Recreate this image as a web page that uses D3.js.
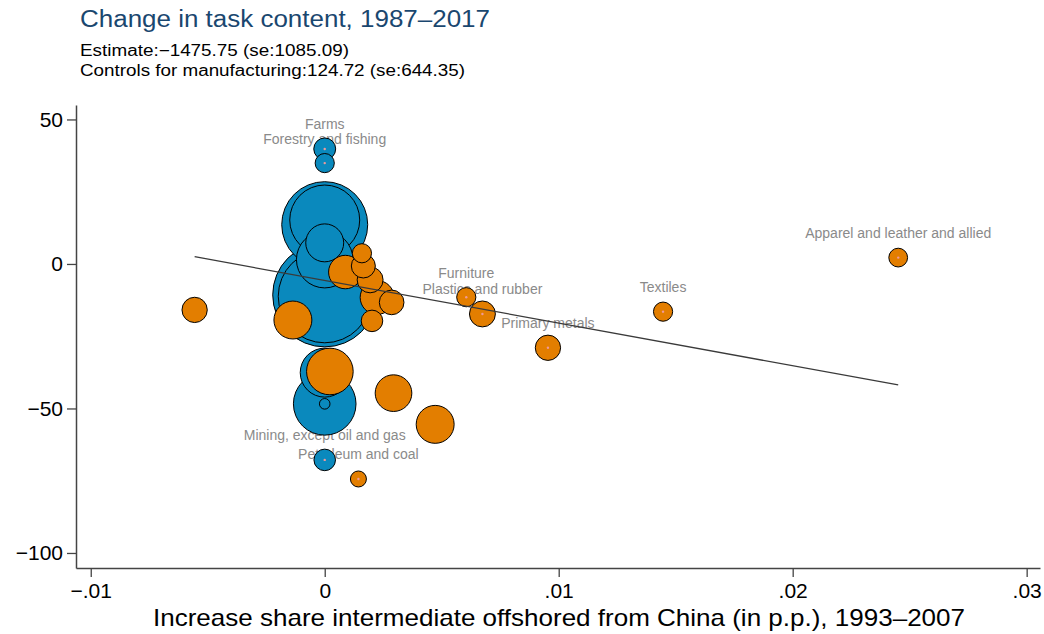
<!DOCTYPE html>
<html><head><meta charset="utf-8">
<script src="https://cdn.jsdelivr.net/npm/d3@7"></script>
<style>body{margin:0;background:#fff}svg{display:block}text{font-family:"Liberation Sans",Arial,sans-serif}</style>
</head><body><svg id="c" width="1044" height="634"></svg>
<script>
// ---- data ----
const blueNames = ["Farms","Forestry and fishing","","","","","","","","","","Mining, except oil and gas"];
const blueX = [0,0,0,0,0,0,0,0,0,0,0,0];
const blueY = [39.8,34.9,13.6,15.2,7.3,1.5,-10.7,-11.2,-37.6,-48.4,-48.4,-67.8];
const blueW = [30,23,462,306,90,200,676,540,150,245,7,29];
const orangeNames = ["","","","","","","","","","","","","Petroleum and coal","Furniture","Plastics and rubber","Primary metals","Textiles","Apparel and leather and allied"];
const orangeX = [-0.00556,-0.00136,0.00022,0.00088,0.00159,0.00165,0.00194,0.00224,0.00286,0.00202,0.00294,0.00472,0.00144,0.00605,0.00674,0.00954,0.01446,0.02451];
const orangeY = [-15.9,-19.4,-37.2,-2.8,3.7,-0.7,-5.5,-11.6,-13.3,-19.7,-44.7,-55.5,-74.4,-11.5,-17.3,-29.0,-16.5,2.2];
const orangeW = [40,90,136,70,23,36,42,72,38,29,84,90,16,23,42,40,23,22];
const fitIntercept = -5.7;
const fitSlope = -1475.75;
const xTicks = [-0.01,0,0.01,0.02,0.03];
const xTickLabels = ["\u2212.01","0",".01",".02",".03"];
const yTicks = [-100,-50,0,50];
const yTickLabels = ["\u2212100","\u221250","0","50"];
const titleText = "Change in task content, 1987\u20132017";
const subtitleLines = ["Estimate:\u22121475.75 (se:1085.09)","Controls for manufacturing:124.72 (se:644.35)"];
const xTitle = "Increase share intermediate offshored from China (in p.p.), 1993\u20132007";

// ---- build ----
const svg = d3.select("#c");
const x = d3.scaleLinear().domain([-0.01063,0.03057]).range([76,1040]);
const y = d3.scaleLinear().domain([-105.2,55]).range([568,105]);
const r = d3.scaleSqrt().domain([0,100]).range([0,20]);
const BLUE="#0a89bd", ORANGE="#e37e00";

const blue = blueX.map((d,i)=>({name:blueNames[i]||"",x:d,y:blueY[i],w:blueW[i],c:BLUE}));
const orange = orangeX.map((d,i)=>({name:orangeNames[i]||"",x:d,y:orangeY[i],w:orangeW[i],c:ORANGE}));

svg.append("text").attr("x",80).attr("y",27).attr("font-size",23).attr("fill","#1a476f")
  .attr("textLength",410).attr("lengthAdjust","spacingAndGlyphs").text(titleText);
subtitleLines.forEach((t,i)=>svg.append("text").attr("x",80).attr("y",56+i*20).attr("font-size",16)
  .attr("fill","#000").attr("textLength",[269,385][i]).attr("lengthAdjust","spacingAndGlyphs").text(t));

// labels (drawn beneath markers)
const labeled = blue.concat(orange).filter(d=>d.name);
svg.append("g").selectAll("text").data(labeled).join("text")
  .attr("x",d=>x(d.x)).attr("y",d=>y(d.y)-19.5).attr("text-anchor","middle")
  .attr("font-size",14).attr("fill","#8a8a8a").text(d=>d.name);

const drawSet = (arr)=>svg.append("g").selectAll("circle")
  .data(arr.slice().sort((a,b)=>b.w-a.w)).join("circle")
  .attr("cx",d=>x(d.x)).attr("cy",d=>y(d.y)).attr("r",d=>r(d.w))
  .attr("fill",d=>d.c).attr("stroke","#000").attr("stroke-width",1);
drawSet(blue); drawSet(orange);

svg.append("g").selectAll("circle").data(labeled).join("circle")
  .attr("cx",d=>x(d.x)).attr("cy",d=>y(d.y)).attr("r",1.2).attr("fill","#ef9a9a");

const all = blue.concat(orange);
const xmin = d3.min(all,d=>d.x), xmax = d3.max(all,d=>d.x);
svg.append("path").datum([xmin,xmax])
  .attr("d",d3.line().x(d=>x(d)).y(d=>y(fitIntercept+fitSlope*d)))
  .attr("stroke","#3a3a3a").attr("stroke-width",1.3).attr("fill","none");

// axes
const ya = svg.append("g").attr("transform","translate(76,0)")
  .call(d3.axisLeft(y).tickValues(yTicks).tickFormat((d,i)=>yTickLabels[i]).tickSize(9).tickSizeOuter(0).tickPadding(4));
const xa = svg.append("g").attr("transform","translate(0,568)")
  .call(d3.axisBottom(x).tickValues(xTicks).tickFormat((d,i)=>xTickLabels[i]).tickSize(9).tickSizeOuter(0).tickPadding(6));
[ya,xa].forEach(g=>{
  g.select(".domain").attr("stroke","#444").attr("stroke-width",1.5);
  g.selectAll(".tick line").attr("stroke","#444").attr("stroke-width",1.3);
  g.selectAll(".tick text").attr("font-size",21).attr("fill","#000").attr("font-family","Liberation Sans, Arial, sans-serif");
});
svg.append("text").attr("x",559).attr("y",626).attr("text-anchor","middle").attr("font-size",24)
  .attr("textLength",812).attr("lengthAdjust","spacingAndGlyphs").text(xTitle);
</script></body></html>
